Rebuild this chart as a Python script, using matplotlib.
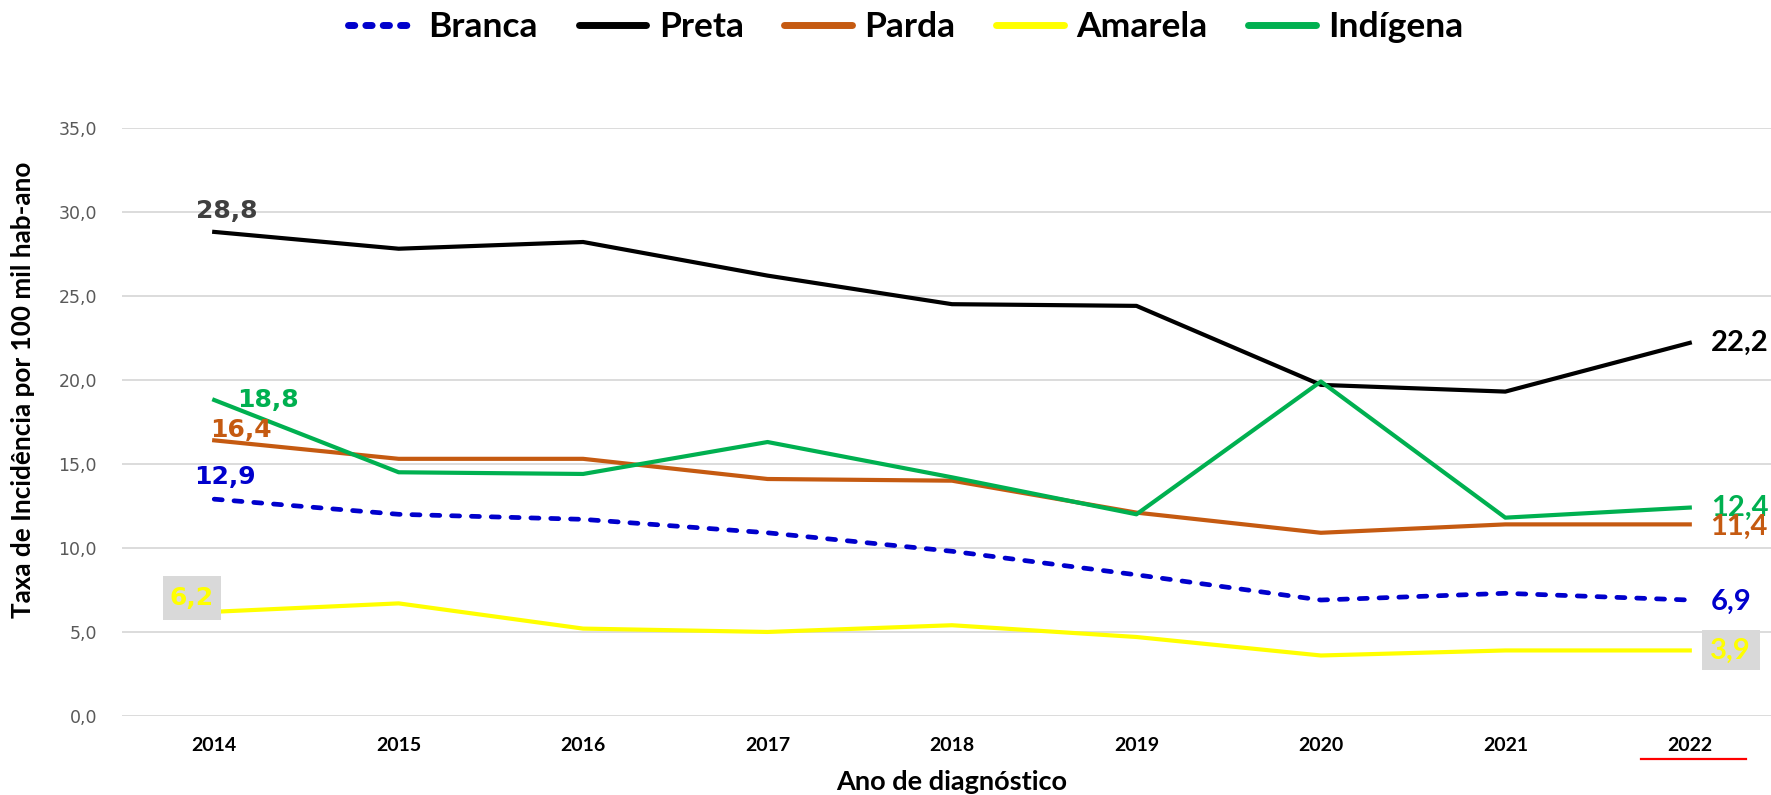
import matplotlib
matplotlib.use("Agg")
import matplotlib.pyplot as plt
from matplotlib.lines import Line2D
from matplotlib.path import Path

# dados (taxa por 100 mil hab-ano)
anos = ["2014", "2015", "2016", "2017", "2018", "2019", "2020", "2021", "2022"]
branca = [12.9, 12.0, 11.7, 10.9, 9.8, 8.4, 6.9, 7.3, 6.9]
preta = [28.8, 27.8, 28.2, 26.2, 24.5, 24.4, 19.7, 19.3, 22.2]
parda = [16.4, 15.3, 15.3, 14.1, 14.0, 12.1, 10.9, 11.4, 11.4]
amarela = [6.2, 6.7, 5.2, 5.0, 5.4, 4.7, 3.6, 3.9, 3.9]
indigena = [18.8, 14.5, 14.4, 16.3, 14.2, 12.0, 19.9, 11.8, 12.4]
yticks = [0, 5, 10, 15, 20, 25, 30, 35]

AZUL = "#0000CC"
PRETO = "#000000"
LARANJA = "#C55A11"
AMARELO = "#FFFF00"
VERDE = "#00B050"
CINZA_BOX = "#D9D9D9"

def fmt(v):
    return f"{v:.1f}".replace(".", ",")

def caixa(padx, pady):
    # caixa retangular com folga diferente em x e y
    def f(x0, y0, w, h, mutation_size):
        px, py = padx * mutation_size, pady * mutation_size
        return Path([(x0 - px, y0 - py), (x0 + w + px, y0 - py), (x0 + w + px, y0 + h + py),
                     (x0 - px, y0 + h + py), (x0 - px, y0 - py)], closed=True)
    return f

fig = plt.figure(figsize=(17.71, 7.95), dpi=100)
ax = fig.add_axes([122 / 1771, 79 / 795, 1660 / 1771, 588.3 / 795])
x = list(range(len(anos)))

lw = 3
ax.plot(x, branca, color=AZUL, lw=lw + 0.4, dashes=(1.7, 2.5), dash_capstyle="round",
        label="Branca", zorder=3)
ax.plot(x, preta, color=PRETO, lw=lw, label="Preta", solid_joinstyle="round", zorder=3)
ax.plot(x, parda, color=LARANJA, lw=lw, label="Parda", solid_joinstyle="round", zorder=3)
ax.plot(x, amarela, color=AMARELO, lw=lw, label="Amarela", solid_joinstyle="round", zorder=3)
ax.plot(x, indigena, color=VERDE, lw=lw, label="Indígena", solid_joinstyle="round", zorder=3)

ax.set_xlim(-0.5, len(anos) - 0.5)
ax.set_ylim(0, 35)
ax.set_yticks(yticks)
ax.set_yticklabels([fmt(v) for v in yticks], fontsize=12.5, color="#595959",
                   family="DejaVu Sans")
ax.set_xticks(x)
ax.set_xticklabels(anos, fontsize=14, fontweight="bold", family="Lato")
ax.tick_params(axis="y", length=0, pad=18)
ax.tick_params(axis="x", length=0, pad=15)
ax.grid(axis="y", color="#D9D9D9", lw=1.3)
ax.set_axisbelow(True)
for s in ax.spines.values():
    s.set_visible(False)

# rótulos à esquerda (2014)
esq = dict(family="DejaVu Sans", fontweight="bold", fontsize=18,
           textcoords="offset points", va="center", clip_on=False, zorder=5)
ax.annotate(fmt(preta[0]), (0, preta[0]), xytext=(9, 15), ha="center", color="#404040", **esq)
ax.annotate(fmt(indigena[0]), (0, indigena[0]), xytext=(16.5, 0), ha="left", color=VERDE, **esq)
ax.annotate(fmt(parda[0]), (0, parda[0]), xytext=(19, 7.5), ha="center", color=LARANJA, **esq)
ax.annotate(fmt(branca[0]), (0, branca[0]), xytext=(7.5, 16), ha="center", color=AZUL, **esq)
ax.annotate(fmt(amarela[0]), (0, amarela[0]), xytext=(-16, 10), ha="center", color=AMARELO,
            bbox=dict(boxstyle=caixa(0.27, 0.4), fc=CINZA_BOX, ec="none"), **esq)

# rótulos à direita (2022)
dir_ = dict(family="Lato", fontweight="bold", fontsize=21,
            textcoords="offset points", va="center", clip_on=False, zorder=5)
n = len(anos) - 1
ax.annotate(fmt(preta[n]), (n, preta[n]), xytext=(15, 0), ha="left", color=PRETO, **dir_)
ax.annotate(fmt(indigena[n]), (n, indigena[n]), xytext=(15.5, 0), ha="left", color=VERDE, **dir_)
ax.annotate(fmt(parda[n]), (n, parda[n]), xytext=(15, -1.5), ha="left", color=LARANJA, **dir_)
ax.annotate(fmt(branca[n]), (n, branca[n]), xytext=(15, -1), ha="left", color=AZUL, **dir_)
ax.annotate(fmt(amarela[n]), (n, amarela[n]), xytext=(29.5, 0), ha="center", color=AMARELO,
            bbox=dict(boxstyle=caixa(0.29, 0.24), fc=CINZA_BOX, ec="none"), **dir_)

# legenda
leg = fig.legend(loc="center", bbox_to_anchor=(906 / 1771, 1 - 27 / 795), ncol=5,
                 frameon=False, handlelength=1.9, handletextpad=0.36, columnspacing=1.15,
                 prop=dict(family="Lato", weight="bold", size=25.5))
for h in leg.get_lines():
    h.set_linewidth(5)
    h.set_solid_capstyle("round")
    h.set_dash_capstyle("round")
leg.get_lines()[0].set_dashes((0.9, 1.6))

# títulos dos eixos
fig.text(952 / 1771, 1 - 790 / 795, "Ano de diagnóstico", ha="center", va="baseline",
         fontsize=19.5, fontweight="bold", family="Lato")
fig.text(23 / 1771, 1 - 390 / 795, "Taxa de Incidência por 100 mil hab-ano", rotation=90,
         ha="center", va="center", fontsize=18.8, fontweight="bold", family="Lato")

# sublinhado vermelho sob 2022
fig.add_artist(Line2D([1641 / 1771, 1746 / 1771], [1 - 758.7 / 795, 1 - 758.7 / 795],
                      color="red", lw=1.6, transform=fig.transFigure))

fig.savefig("out.png", dpi=100)
